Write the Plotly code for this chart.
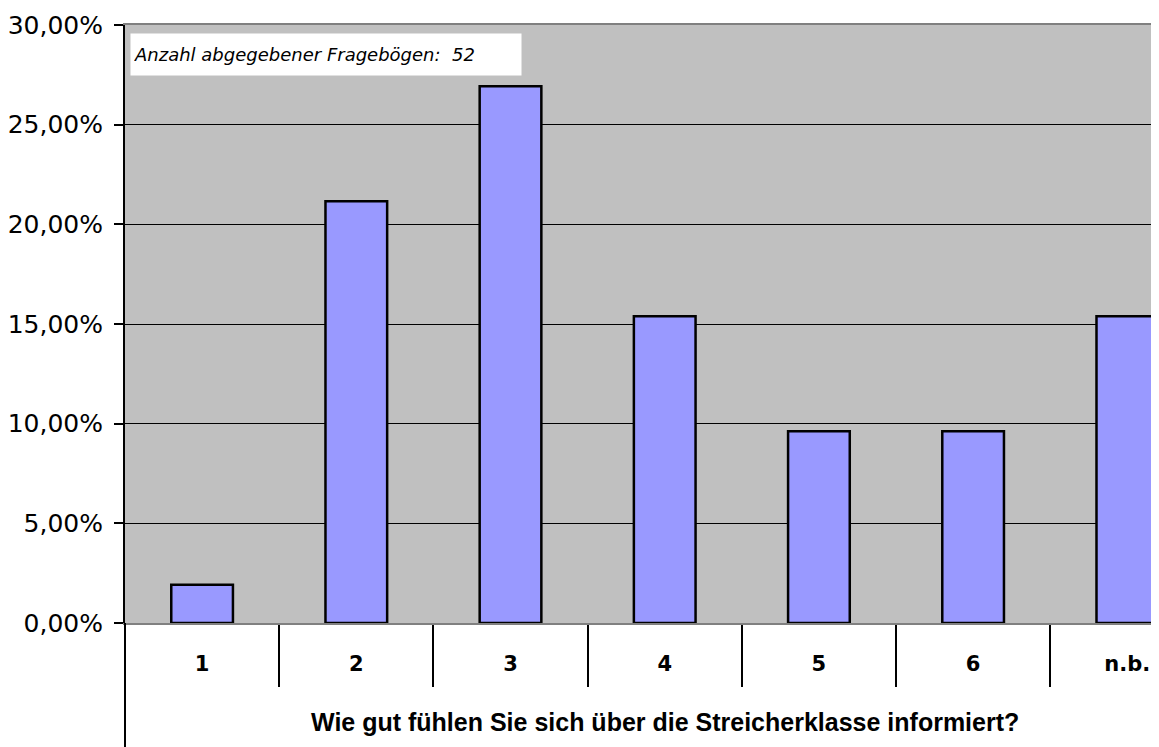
import plotly.graph_objects as go

categories = ["1", "2", "3", "4", "5", "6", "n.b."]
counts = [1, 11, 14, 8, 5, 5, 8]
total = 52
shares = [c / total for c in counts]

y_ticks = [0, 0.05, 0.10, 0.15, 0.20, 0.25, 0.30]
note_text = "Anzahl abgegebener Fragebögen:  52"
title_text = "Wie gut fühlen Sie sich über die Streicherklasse informiert?"

fig = go.Figure()
fig.add_trace(go.Bar(
    x=categories, y=shares, width=0.4,
    marker=dict(color="#9999FF", line=dict(color="black", width=2.5)),
    hoverinfo="x+y",
))

# the page body has an 8px margin; figure is sized to fill the rest
OFF = 8
W, H = 1159 - OFF, 747 - OFF
L, R, T, B = 125 - OFF, 7, 25 - OFF, 124
ph = H - T - B

fig.update_layout(
    width=W, height=H,
    margin=dict(l=L, r=R, t=T, b=B, pad=0, autoexpand=False),
    paper_bgcolor="white",
    plot_bgcolor="#C0C0C0",
    separators=",.",
    showlegend=False,
    bargap=0.6,
    xaxis=dict(
        type="category",
        range=[-0.5, 6.16],
        automargin=False,
        tickson="boundaries",
        ticks="outside", ticklen=62, tickwidth=2, tickcolor="black",
        ticklabelstandoff=21,
        tickfont=dict(family="DejaVu Sans", size=21, color="black", weight="bold"),
        showgrid=False,
        showline=True, linecolor="#808080", linewidth=2, mirror=True,
        zeroline=False,
    ),
    yaxis=dict(
        range=[0, 0.30],
        automargin=False,
        tickvals=y_ticks,
        tickformat=".2%",
        ticks="outside", ticklen=9, tickwidth=2, tickcolor="black",
        ticklabelstandoff=6,
        tickfont=dict(family="DejaVu Sans", size=25, color="black"),
        showgrid=True, gridcolor="black", gridwidth=1,
        showline=True, linecolor="black", linewidth=2,
        zeroline=False,
    ),
)

fig.add_annotation(
    xref="paper", yref="paper",
    x=5 / (W - L - R), y=(ph - 8) / ph,
    xanchor="left", yanchor="top",
    text=note_text, showarrow=False,
    bgcolor="white", borderpad=3, width=384, height=35, align="left",
    font=dict(family="DejaVu Sans", size=18, color="black", style="italic"),
)

fig.add_annotation(
    xref="x", yref="paper",
    x=3, y=-(722 - 623) / ph,
    xanchor="center", yanchor="middle",
    text=title_text, showarrow=False,
    font=dict(family="Liberation Sans", size=25, color="black", weight="bold"),
)

fig.add_shape(
    type="line", xref="paper", yref="paper",
    x0=0, x1=0, y0=0, y1=-(B) / ph,
    line=dict(color="black", width=2),
)

fig.write_html("out.html")
